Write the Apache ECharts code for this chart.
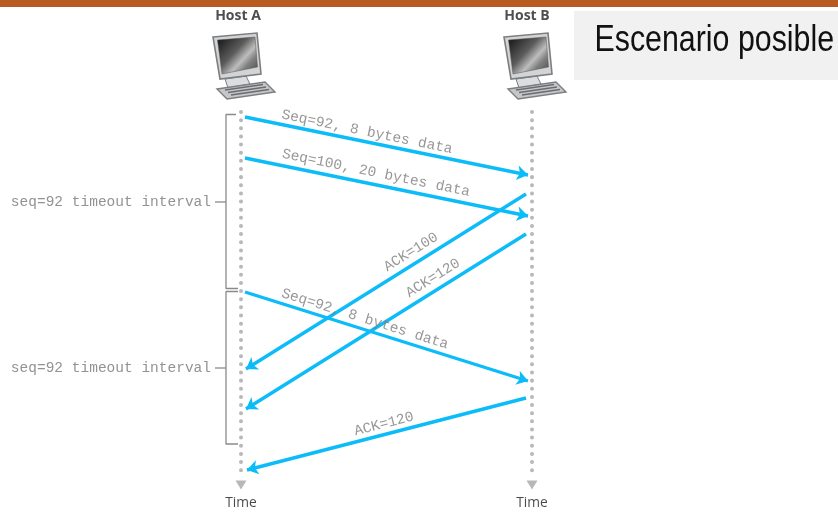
<!DOCTYPE html>
<html><head><meta charset="utf-8">
<style>html,body{margin:0;padding:0;background:#fff}#c{width:838px;height:512px}</style>
<script src="https://cdn.jsdelivr.net/npm/echarts@6/dist/echarts.min.js"></script>
</head><body><div id="c"></div>
<script>
const hosts = [{name:'Host A', x:241},{name:'Host B', x:532}];
const hostLabels = [['Host A',238,16],['Host B',527,16]];
const timelineTop = 112, timelineEnd = 477;
// [startX, startY, endX, endY] on the diagram's time axis
const messages = [
  [245,117,528,175],[245,158,528,216],
  [526,194,246,369],[526,234,246,409],
  [245,292,528,381],[526,398,247,470]
];
const messageLabels = [
  ['Seq=92, 8 bytes data',367,132,-11.6],
  ['Seq=100, 20 bytes data',376,173,-11.6],
  ['ACK=100',411,252,32],
  ['ACK=120',433,278,32],
  ['Seq=92, 8 bytes data',365,319,-17.4],
  ['ACK=120',384,424,14.5]
];
const brackets = [
  [[236,114.5],[226,114.5],[226,288.5],[238,288.5]],
  [[238,291.5],[226,291.5],[226,444],[238,444]],
  [[215,202],[226,202]],
  [[215,368],[226,368]]
];
const intervalLabels = [['seq=92 timeout interval',211,202],['seq=92 timeout interval',211,368]];
const timeLabels = [['Time',241,503],['Time',532,503]];
const titleText = 'Escenario posible';

const bracketSeries = brackets.map(b => ({
  type:'line', data:b, symbol:'none', silent:true, z:2, animation:false,
  lineStyle:{color:'#8a8a8a', width:1.3}
}));
const timelineSeries = hosts.map(h => ({
  type:'line', data:[[h.x,timelineTop],[h.x,timelineEnd]], symbol:'none', z:1, animation:false,
  lineStyle:{color:'#b8b8bb', width:4, cap:'round', type:[0.01,8.13]}
}));
function txt(rows, style, extra){
  return Object.assign({
    type:'scatter', symbolSize:0, z:6, animation:false,
    data:rows.map(r=>({value:[r[1],r[2]], label:Object.assign({formatter:r[0], rotate:r[3]||0}, style)}))
  }, extra||{});
}
const mono = {show:true, position:'inside', fontFamily:'Liberation Mono', fontSize:14.5, color:'#7d7d7d'};
const sans = {show:true, position:'inside', fontFamily:'Open Sans', fontSize:13.8, color:'#1c1c1c'};

function grad(){ return new echarts.graphic.LinearGradient(0,0,1,1,[
  {offset:0,color:'#111'},{offset:0.42,color:'#5c5c5c'},{offset:0.62,color:'#bdbdbd'},{offset:0.75,color:'#808080'},{offset:1,color:'#484848'}]); }
function poly(o,pts,style){ return {type:'polygon', shape:{points:pts.map(p=>[o[0]+p[0],o[1]+p[1]])}, style}; }
function line(o,a,b,c){ return {type:'line', shape:{x1:o[0]+a[0],y1:o[1]+a[1],x2:o[0]+b[0],y2:o[1]+b[1]}, style:{stroke:c,lineWidth:1.4}}; }
function computer(params, api){
  const o = api.coord([api.value(0), 0]);
  const f='#d3d4d6', s='#7c7e81';
  return {type:'group', children:[
    poly(o,[[-16,79],[5,76],[9,84],[-13,88]],{fill:'#dcdde0',stroke:s,lineWidth:1}),
    poly(o,[[-28,37],[16,33],[20,74],[-21,79]],{fill:f,stroke:s,lineWidth:1.6}),
    poly(o,[[-23.5,40],[14,37],[16.5,67],[-19,74]],{fill:grad(),stroke:'#555',lineWidth:0.5}),
    poly(o,[[-24,89],[24,82],[34,92],[-14,99]],{fill:'#c4c6c8',stroke:s,lineWidth:1.4}),
    line(o,[-16,90],[22,84.5],'#6a6c6f'),
    line(o,[-13,92.5],[25,87],'#6a6c6f'),
    line(o,[-10,95],[28,89.5],'#6a6c6f')
  ]};
}
const option = {
  animation:false,
  grid:{left:0,right:0,top:0,bottom:0},
  xAxis:{type:'value',min:0,max:838,show:false},
  yAxis:{type:'value',min:0,max:512,inverse:true,show:false},
  graphic:[
    {type:'rect',shape:{x:0,y:0,width:838,height:7},style:{fill:'#b85a22'},z:0},
    {type:'rect',shape:{x:574,y:11,width:264,height:69},style:{fill:'#f1f1f1'},z:0},
    {type:'text',x:594.5,y:59,scaleX:0.843,z:10,style:{text:titleText,fontFamily:'Liberation Sans',fontSize:36,fill:'#111',verticalAlign:'bottom'}}
  ],
  series:[
    ...timelineSeries,
    ...bracketSeries,
    {type:'scatter', symbol:'triangle', symbolRotate:180, symbolSize:[11,9], z:2, animation:false,
     itemStyle:{color:'#b8b8bb',opacity:1}, data:hosts.map(h=>[h.x,485])},
    {type:'custom', renderItem:computer, data:hosts.map(h=>[h.x]), encode:{x:0}, z:3, animation:false, clip:false},
    txt(messageLabels, mono),
    {type:'lines', coordinateSystem:'cartesian2d', z:5, animation:false,
     symbol:['none','arrow'], symbolSize:11,
     lineStyle:{color:'#0cbcf8',width:3.4,opacity:1,curveness:0},
     data:messages.map(m=>({coords:[[m[0],m[1]],[m[2],m[3]]]}))},
    txt(intervalLabels, Object.assign({},mono,{position:'left',distance:0,color:'#777'})),
    txt(timeLabels, sans),
    txt(hostLabels, Object.assign({},sans,{fontWeight:'bold',fontSize:14,color:'#222'}))
  ]
};
echarts.init(document.getElementById('c'),null,{renderer:'canvas'}).setOption(option);
</script></body></html>
